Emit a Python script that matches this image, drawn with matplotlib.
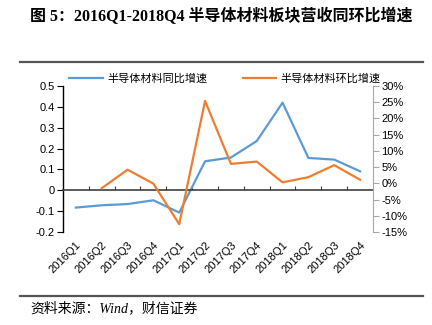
import numpy as np
import matplotlib.pyplot as plt
from matplotlib.ticker import FuncFormatter, FixedLocator

plt.rcParams['font.family'] = ['Liberation Sans', 'Noto Sans CJK SC', 'DejaVu Sans']

# Data
quarters = ['2016Q1', '2016Q2', '2016Q3', '2016Q4', '2017Q1', '2017Q2',
            '2017Q3', '2017Q4', '2018Q1', '2018Q2', '2018Q3', '2018Q4']
yoy = [-0.083, -0.072, -0.066, -0.048, -0.107, 0.139,
       0.157, 0.236, 0.42, 0.155, 0.147, 0.091]
qoq_quarters = quarters[1:]
qoq = [-1.5, 4.2, -0.1, -12.6, 25.4, 6.0, 6.7, 0.3, 1.9, 5.6, 1.1]

blue = '#5B9BD5'
orange = '#ED7D31'

fig = plt.figure(figsize=(4.32, 3.25), dpi=100)
ax = fig.add_axes([0.1458, 0.2862, 0.7176, 0.4492])
ax2 = ax.twinx()

x = np.arange(len(quarters))
x2 = np.arange(1, len(quarters))
l1, = ax.plot(x, yoy, color=blue, lw=1.6, label='半导体材料同比增速')
l2, = ax2.plot(x2, qoq, color=orange, lw=1.6, label='半导体材料环比增速')

ax.set_xlim(-0.5, len(quarters) - 0.5)
ax.set_ylim(-0.2, 0.5)
ax.set_yticks(np.arange(-0.2, 0.51, 0.1))
ax.yaxis.set_major_formatter(FuncFormatter(lambda v, p: '0' if abs(v) < 1e-9 else f'{v:.1f}'))
ax2.set_ylim(-15, 30)
ax2.set_yticks(np.arange(-15, 31, 5))
ax2.yaxis.set_major_formatter(FuncFormatter(lambda v, p: f'{v:.0f}%'))

# zero line with small upward ticks at category boundaries
ax.spines['bottom'].set_position(('data', 0))
ax.spines['bottom'].set_color('#404040')
ax.spines['bottom'].set_linewidth(1.2)
ax.spines['top'].set_visible(False)
ax.xaxis.set_major_locator(FixedLocator(np.arange(0.5, len(quarters) - 0.5, 1)))
ax.tick_params(axis='x', direction='in', length=3, color='#404040', labelbottom=False)
for s in ['top', 'bottom']:
    ax2.spines[s].set_visible(False)
ax2.spines['left'].set_visible(False)
ax2.spines['right'].set_color('#A6A6A6')
ax.spines['right'].set_visible(False)
ax.spines['left'].set_linewidth(1.0)
ax.tick_params(axis='y', length=4, labelsize=8, pad=2)
ax2.tick_params(axis='y', length=4, color='#A6A6A6', labelsize=8, pad=2)

# category labels at bottom
sec = ax.secondary_xaxis('bottom')
sec.set_xticks(x, quarters, rotation=45, ha='right', rotation_mode='anchor', fontsize=8)
sec.tick_params(length=0, pad=6)
sec.spines['bottom'].set_visible(False)

fig.legend([l1, l2], [l1.get_label(), l2.get_label()], loc='upper center',
           bbox_to_anchor=(0.521, 0.805), ncol=2, frameon=False, fontsize=8,
           handlelength=3.0, columnspacing=3.2, handletextpad=0.4)

# title, rules and source
fig.text(0.07, 0.975, '图 5：2016Q1-2018Q4 半导体材料板块营收同环比增速',
         fontsize=11.5, fontweight='bold', va='top',
         family=['Liberation Serif', 'Noto Sans CJK SC'])
fig.add_artist(plt.Line2D([0.046, 0.979], [0.81, 0.81], color='#555555', lw=1.6))
fig.add_artist(plt.Line2D([0.046, 0.979], [0.089, 0.089], color='#555555', lw=1.6))
fig.text(0.07, 0.05, '资料来源：Wind，财信证券', fontsize=10, style='italic', va='center',
         family=['Liberation Serif', 'Noto Sans CJK SC'])

fig.savefig('out.png', dpi=100)
